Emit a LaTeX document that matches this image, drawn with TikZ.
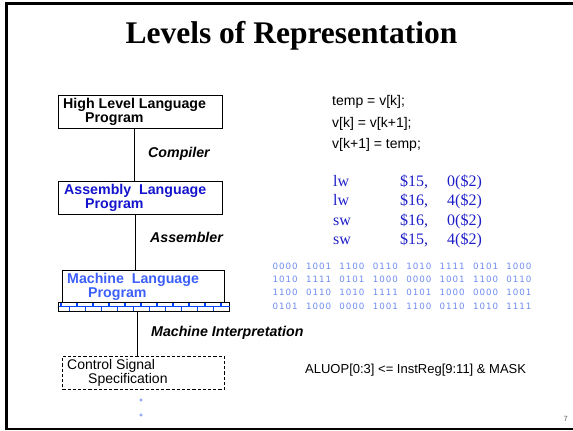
\documentclass[tikz,border=0pt]{standalone}
\usepackage{fontspec}
\setmainfont{Liberation Serif}
\setsansfont{Liberation Sans}
\newfontfamily\digitfont{DejaVu Sans}
\definecolor{asmblue}{RGB}{20,20,205}
\definecolor{mlblue}{RGB}{60,95,250}
\definecolor{binblue}{RGB}{110,140,240}
\definecolor{codeblue}{RGB}{30,30,200}
\definecolor{brickblue}{RGB}{0,70,255}
\definecolor{pagegray}{RGB}{90,90,90}

% one binary digit in a fixed cell, four of them make a word
\newcommand\bdig[1]{\makebox[6.5pt][l]{#1}}
\newcommand\bquad[4]{\bdig{#1}\bdig{#2}\bdig{#3}\bdig{#4}\hspace{7.4pt}}
% one line of assembly in three columns
\newcommand\asmline[3]{\makebox[67pt][l]{#1}\makebox[47pt][l]{#2}#3}

\tikzset{
  levelbox/.style={draw, line width=0.9pt, anchor=north west, inner sep=0pt,
    minimum width=164pt, minimum height=33pt},
  boxtext/.style={anchor=base west, inner sep=0pt,
    font=\sffamily\bfseries\fontsize{14.2}{16}\selectfont},
  steplabel/.style={anchor=base west, inner sep=0pt,
    font=\sffamily\bfseries\itshape\fontsize{14.2}{16}\selectfont},
  link/.style={line width=0.9pt},
  codetext/.style={anchor=base west, inner sep=0pt,
    font=\sffamily\fontsize{14}{16}\selectfont},
  asmtext/.style={anchor=base west, inner sep=0pt, text=codeblue,
    font=\rmfamily\fontsize{16}{18}\selectfont},
  binrow/.style={anchor=base west, inner sep=0pt, text=binblue,
    font=\digitfont\fontsize{8.7}{10}\selectfont},
  dotmark/.style={circle, draw=binblue, line width=0.6pt, inner sep=0pt,
    minimum size=2.6pt},
  brick/.style={brickblue, line width=1.3pt},
}

\begin{document}
\begin{tikzpicture}[x=1pt,y=-1pt]
\useasboundingbox (0,0) rectangle (573,431);

% slide frame, open on the right
\begin{scope}
\clip (0,0) rectangle (573,431);
\draw[line width=2.6pt] (590,3.4) -- (6.3,3.4) -- (6.3,428.8) -- (590,428.8);
\end{scope}

% title
\node[anchor=base, inner sep=0pt, font=\rmfamily\bfseries\fontsize{31.5}{36}\selectfont]
  (title) at (291.5,43) {Levels of Representation};

% ---- levels ----
\node[levelbox] (hll) at (58,95) {};
\node[boxtext] (hll1) at (63,108.3) {High Level Language};
\node[boxtext] (hll2) at (85,122.7) {Program};

\node[levelbox] (asm) at (58,180.7) {};
\node[boxtext, text=asmblue] (asm1) at (64,194.3) {Assembly\ \ Language};
\node[boxtext, text=asmblue] (asm2) at (85,208.7) {Program};

\node[levelbox, minimum width=162pt, minimum height=32pt] (ml) at (62,270) {};
\node[boxtext, text=mlblue] (ml1) at (67,283.3) {Machine\ \ Language};
\node[boxtext, text=mlblue] (ml2) at (88,297.3) {Program};

% brick strip under the machine language box
\node[draw, fill=white, line width=0.9pt, anchor=north west, inner sep=0pt,
  minimum width=171.3pt, minimum height=9pt] (strip) at (58,302) {};
\draw[brick, line width=1pt] ([xshift=0.5pt]strip.west) -- ([xshift=-0.5pt]strip.east);
\foreach \x in {61,77,...,221} \draw[brick] (\x,302.5) -- (\x,306.5);
\foreach \x in {69.5,85.5,...,213.5} \draw[brick] (\x,306.5) -- (\x,310.5);

\node[levelbox, dashed, dash pattern=on 3.2pt off 2pt, line width=0.7pt,
  minimum width=162pt, minimum height=33pt] (ctrl) at (62,356) {};
\node[boxtext, font=\sffamily\fontsize{14}{16}\selectfont] (ctrl1) at (67,369.3) {Control Signal};
\node[boxtext, font=\sffamily\fontsize{14}{16}\selectfont] (ctrl2) at (88,383.3) {Specification};

% connectors between the levels
\coordinate (c1) at (134.3,0);
\coordinate (c2) at (135.7,0);
\coordinate (c3) at (137.3,0);
\draw[link] (hll.south -| c1) -- (asm.north -| c1);
\draw[link] (asm.south -| c2) -- (ml.north -| c2);
\draw[link] (strip.south -| c3) -- (ctrl.north -| c3);

\node[steplabel] (comp) at (148,157.7) {Compiler};
\node[steplabel] (assm) at (150,242.7) {Assembler};
\node[steplabel] (interp) at (151,336) {Machine Interpretation};

\node[dotmark] (dot1) at (141,400) {};
\node[dotmark] (dot2) at (141,415) {};

% ---- right column ----
\node[codetext] (src1) at (332,105.7) {temp = v[k];};
\node[codetext] (src2) at (332,127.2) {v[k] = v[k+1];};
\node[codetext] (src3) at (332,148.3) {v[k+1] = temp;};

\node[asmtext] (a1) at (333,186) {\asmline{lw}{\$15,}{0(\$2)}};
\node[asmtext] (a2) at (333,205.5) {\asmline{lw}{\$16,}{4(\$2)}};
\node[asmtext] (a3) at (333,225) {\asmline{sw}{\$16,}{0(\$2)}};
\node[asmtext] (a4) at (333,244.5) {\asmline{sw}{\$15,}{4(\$2)}};

\node[binrow] (b1) at (272.5,269) {\bquad0000\bquad1001\bquad1100\bquad0110\bquad1010\bquad1111\bquad0101\bquad1000};
\node[binrow] (b2) at (272.5,282.3) {\bquad1010\bquad1111\bquad0101\bquad1000\bquad0000\bquad1001\bquad1100\bquad0110};
\node[binrow] (b3) at (272.5,295.7) {\bquad1100\bquad0110\bquad1010\bquad1111\bquad0101\bquad1000\bquad0000\bquad1001};
\node[binrow] (b4) at (272.5,309) {\bquad0101\bquad1000\bquad0000\bquad1001\bquad1100\bquad0110\bquad1010\bquad1111};

\node[codetext, font=\sffamily\fontsize{13}{15}\selectfont] (alu) at (305,373.3)
  {ALUOP[0:3] <= InstReg[9:11] \& MASK};

\node[anchor=base west, inner sep=0pt, text=pagegray,
  font=\sffamily\fontsize{7.5}{9}\selectfont] (page) at (563.5,421.7) {7};
\end{tikzpicture}
\end{document}
